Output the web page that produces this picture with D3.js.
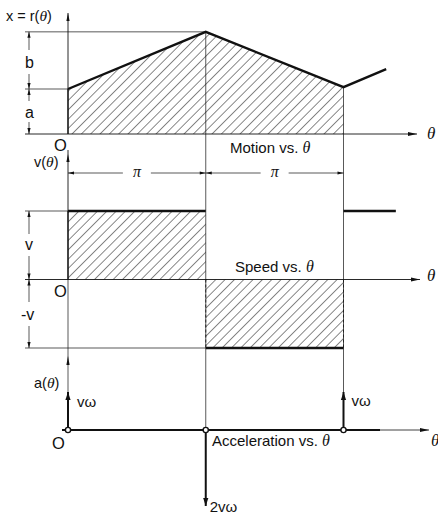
<!DOCTYPE html>
<html>
<head>
<meta charset="utf-8">
<script src="https://cdn.jsdelivr.net/npm/d3@7"></script>
<style>
  html, body { margin: 0; padding: 0; background: #fff; }
  svg { display: block; }
  .lbl { font-family: "Liberation Sans", Arial, sans-serif; font-size: 13px; fill: #111; }
  .sym { font-family: "Liberation Serif", "Times New Roman", serif; font-style: italic; }
</style>
</head>
<body>
<svg id="chart" width="438" height="524"></svg>
<script>
// Angle positions are given in multiples of pi.
const thetaBreaks = [0, 1, 2];
const motionTheta = [0, 1, 2, 2.31];
const motionValues = [1, 2.27, 1.04, 1.44];      // in units of a
const speedTheta = [0, 1, 1, 2, 2, 2.38];
const speedValues = [1, 1, -1, -1, 1, 1];        // in units of v
const accelTheta = [0, 1, 2];
const accelValues = [1, -2, 1];                  // impulse heights, in units of v·omega
const accelLabels = ["vω", "2vω", "vω"];
const motionDimLabels = ["b", "a"];
const speedDimLabels = ["v", "-v"];
const periodLabels = ["π", "π"];

const svg = d3.select("#chart");
const ink = "#111";

// Shared horizontal scale: theta (in pi units) -> pixels
const x = d3.scaleLinear().domain([0, 2]).range([68, 343.5]);

// Vertical scales for the three panels
const yMotion = d3.scaleLinear().domain([0, 1]).range([134, 89]);
const ySpeed = d3.scaleLinear().domain([-1, 1]).range([348, 211]);
const yAccel = d3.scaleLinear().domain([0, 1]).range([430, 392]);

// Diagonal hatch fill
const defs = svg.append("defs");
defs.append("pattern")
  .attr("id", "hatch")
  .attr("patternUnits", "userSpaceOnUse")
  .attr("width", 6.6).attr("height", 10)
  .attr("patternTransform", "rotate(45)")
  .append("line")
  .attr("x1", 0).attr("y1", -1).attr("x2", 0).attr("y2", 11)
  .attr("stroke", ink).attr("stroke-width", 1);

function line(x1, y1, x2, y2, w = 0.8, dash = null) {
  const l = svg.append("line")
    .attr("x1", x1).attr("y1", y1).attr("x2", x2).attr("y2", y2)
    .attr("stroke", ink).attr("stroke-width", w);
  if (dash) l.attr("stroke-dasharray", dash);
  return l;
}

// Filled arrowhead whose tip sits at (x2, y2), pointing away from (x1, y1)
function head(x1, y1, x2, y2, len = 7, half = 2.2) {
  const a = Math.atan2(y2 - y1, x2 - x1);
  const bx = x2 - len * Math.cos(a), by = y2 - len * Math.sin(a);
  const px = -Math.sin(a) * half, py = Math.cos(a) * half;
  svg.append("path")
    .attr("d", `M${x2},${y2}L${bx + px},${by + py}L${bx - px},${by - py}Z`)
    .attr("fill", ink);
}

function arrow(x1, y1, x2, y2, w = 0.8, len = 7, half = 2.2) {
  line(x1, y1, x2, y2, w);
  head(x1, y1, x2, y2, len, half);
}

function text(tx, ty, str, size = 13) {
  const t = svg.append("text").attr("class", "lbl")
    .attr("x", tx).attr("y", ty).style("font-size", size + "px");
  // Greek theta / pi rendered as italic serif, everything else as plain sans
  const parts = str.split(/([θπ])/);
  parts.forEach(p => {
    if (!p) return;
    const s = t.append("tspan").text(p);
    if (p === "θ" || p === "π") s.attr("class", "sym").style("font-size", (size + 1) + "px");
  });
  return t;
}

// ---------------- Motion vs. theta ----------------
const motionPts = motionTheta.map((t, i) => [x(t), yMotion(motionValues[i])]);
const hatchPts = motionPts.slice(0, 3);
svg.append("path")
  .attr("d", d3.line()([[x(0), yMotion(0)], ...hatchPts, [x(2), yMotion(0)]]) + "Z")
  .attr("fill", "url(#hatch)");

// axes
arrow(x(0), yMotion(0), x(0), 13, 0.9, 8, 1.6);
arrow(25, yMotion(0), 417, yMotion(0), 0.9, 9, 2);
// reference levels
line(25, yMotion(motionValues[1]), x(1), yMotion(motionValues[1]), 0.7);
line(25, yMotion(motionValues[0]), x(0), yMotion(motionValues[0]), 0.7);
// vertical guides at pi and 2pi
line(x(1), yMotion(motionValues[1]), x(1), yAccel(0), 0.7);
line(x(2), yMotion(motionValues[2]), x(2), yAccel(0) - 36, 0.7);
// left edge of the hatched region
line(x(0), yMotion(0), x(0), yMotion(motionValues[0]), 1.2);
// motion profile
svg.append("path")
  .attr("d", d3.line()(motionPts))
  .attr("fill", "none").attr("stroke", ink)
  .attr("stroke-width", 2.4).attr("stroke-linejoin", "miter");

// b / a dimension line
{
  const dx = 29;
  const yTop = yMotion(motionValues[1]), yMid = yMotion(motionValues[0]), yBot = yMotion(0);
  arrow(dx, 50, dx, yTop, 0.7, 6, 1.6);
  arrow(dx, 74, dx, yMid, 0.7, 6, 1.6);
  arrow(dx, 101, dx, yMid, 0.7, 6, 1.6);
  arrow(dx, 122, dx, yBot, 0.7, 6, 1.6);
  text(dx - 4, 68, motionDimLabels[0], 16);
  text(dx - 4, 118, motionDimLabels[1], 16);
}

text(6, 21, "x = r(θ)", 14.5);
text(54, 151, "O", 16.5);
text(230, 153, "Motion vs. θ", 15);
text(427, 139, "θ", 16);

// ---------------- Speed vs. theta ----------------
// period dimension lines
{
  const py = 173;
  const segs = [[x(0), x(1)], [x(1), x(2)]];
  segs.forEach(([a, b], i) => {
    const m = (a + b) / 2;
    arrow(m - 14, py, a, py, 0.7, 6, 1.6);
    arrow(m + 14, py, b, py, 0.7, 6, 1.6);
    text(m - 4, py + 4, periodLabels[i], 15);
  });
}

// hatched rectangles
svg.append("rect")
  .attr("x", x(0)).attr("y", ySpeed(1))
  .attr("width", x(1) - x(0)).attr("height", ySpeed(0) - ySpeed(1))
  .attr("fill", "url(#hatch)");
svg.append("rect")
  .attr("x", x(1)).attr("y", ySpeed(0))
  .attr("width", x(2) - x(1)).attr("height", ySpeed(-1) - ySpeed(0))
  .attr("fill", "url(#hatch)");

// axes
line(x(0), ySpeed(0), x(0), yAccel(0), 0.7);
line(x(0), 150, x(0), ySpeed(0), 0.9);
head(x(0), 170, x(0), 154, 8, 1.6);
head(x(0), 372, x(0), 356, 9, 1.6);
arrow(25, ySpeed(0), 420, ySpeed(0), 0.9, 9, 2);
line(x(1), ySpeed(0), x(1), ySpeed(-1), 0.8, "3,2");
line(x(2), ySpeed(0), x(2), ySpeed(-1), 0.8, "3,2");
// reference levels
line(25, ySpeed(1), x(0), ySpeed(1), 0.7);
line(25, ySpeed(-1), x(1), ySpeed(-1), 0.7);

// speed profile: drawn as the bold horizontal runs
line(x(0), ySpeed(0), x(0), ySpeed(1), 1.2);
for (let i = 0; i < speedTheta.length - 1; i += 2) {
  line(x(speedTheta[i]), ySpeed(speedValues[i]), x(speedTheta[i + 1]), ySpeed(speedValues[i + 1]), 2.4);
}

// v / -v dimension line
{
  const dx = 29;
  arrow(dx, 234, dx, ySpeed(1), 0.7, 6, 1.6);
  arrow(dx, 256, dx, ySpeed(0), 0.7, 6, 1.6);
  arrow(dx, 302, dx, ySpeed(0), 0.7, 6, 1.6);
  arrow(dx, 326, dx, ySpeed(-1), 0.7, 6, 1.6);
  text(dx - 4, 250, speedDimLabels[0], 16);
  text(dx - 8, 320, speedDimLabels[1], 16);
}

text(34, 167, "v(θ)", 14.5);
text(54, 297, "O", 16.5);
text(235, 272, "Speed vs. θ", 15);
text(427, 281, "θ", 16);

// ---------------- Acceleration vs. theta ----------------
const y0 = yAccel(0);
line(62, y0, 380, y0, 2);
arrow(380, y0, 429, y0, 0.8, 9, 2);

accelTheta.forEach((t, i) => {
  arrow(x(t), y0, x(t), yAccel(accelValues[i]), 2, 8, 2.6);
});
thetaBreaks.forEach(t => {
  svg.append("circle").attr("cx", x(t)).attr("cy", y0).attr("r", 2.6)
    .attr("fill", "#fff").attr("stroke", ink).attr("stroke-width", 1.4);
});

text(x(accelTheta[0]) + 9, yAccel(accelValues[0]) + 15, accelLabels[0], 15);
text(x(accelTheta[2]) + 8, yAccel(accelValues[2]) + 14, accelLabels[2], 15);
text(x(accelTheta[1]) + 4, yAccel(accelValues[1]) + 6, accelLabels[1], 15);

text(34, 388, "a(θ)", 14.5);
text(52, 449, "O", 16.5);
text(212, 446, "Acceleration vs. θ", 15);
text(431, 446, "θ", 16);
</script>
</body>
</html>
